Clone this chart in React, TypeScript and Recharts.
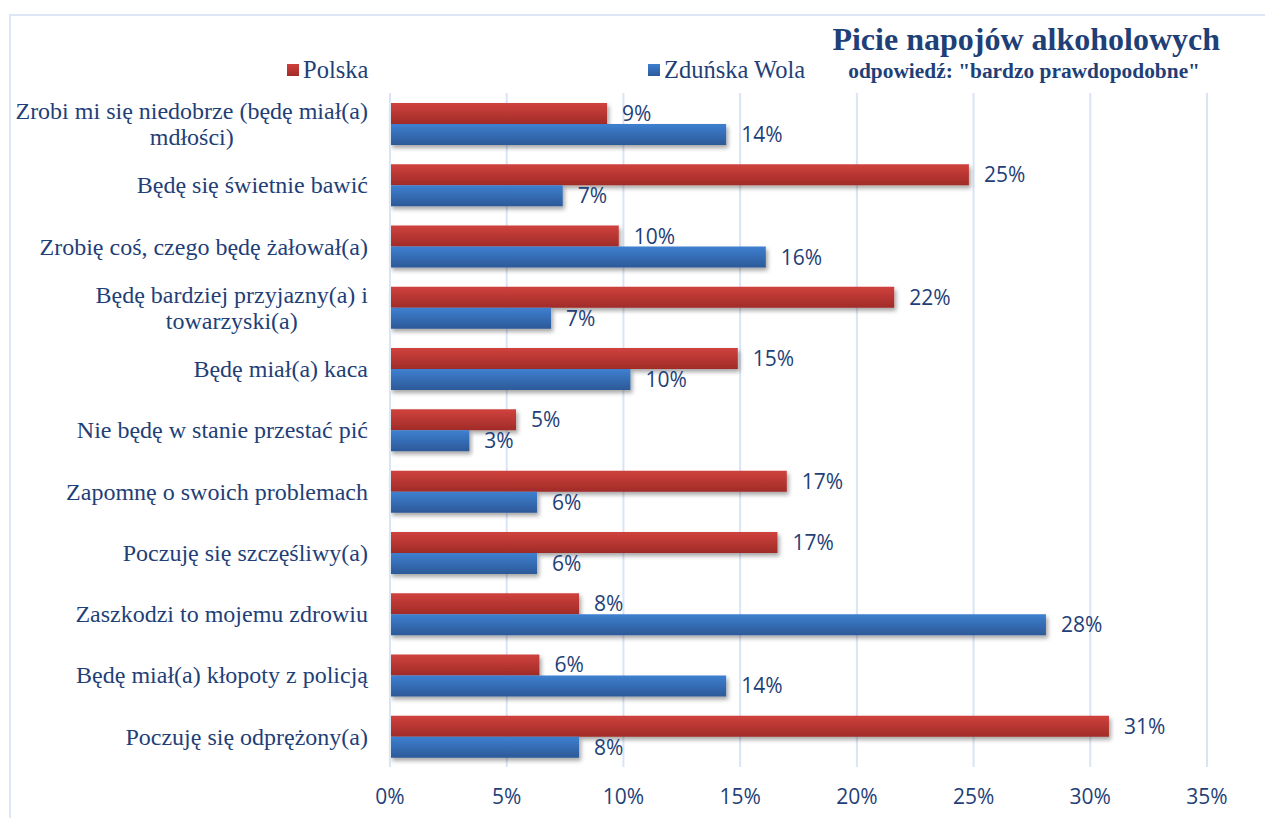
import React from "react";
import {
  BarChart,
  Bar,
  XAxis,
  YAxis,
  CartesianGrid,
  LabelList,
} from "recharts";

const categories = [
  "Zrobi mi się niedobrze (będę miał(a)\nmdłości)",
  "Będę się świetnie bawić",
  "Zrobię coś, czego będę żałował(a)",
  "Będę bardziej przyjazny(a) i\ntowarzyski(a)",
  "Będę miał(a) kaca",
  "Nie będę w stanie przestać pić",
  "Zapomnę o swoich problemach",
  "Poczuję się szczęśliwy(a)",
  "Zaszkodzi to mojemu zdrowiu",
  "Będę miał(a) kłopoty z policją",
  "Poczuję się odprężony(a)",
];

const polska = [9.3, 24.8, 9.8, 21.6, 14.9, 5.4, 17.0, 16.6, 8.1, 6.4, 30.8];
const zdunskaWola = [14.4, 7.4, 16.1, 6.9, 10.3, 3.4, 6.3, 6.3, 28.1, 14.4, 8.1];

const xTicks = [0, 5, 10, 15, 20, 25, 30, 35];

const data = categories.map((name, i) => ({
  name,
  polska: polska[i],
  zw: zdunskaWola[i],
}));

const TEXT = "#1F3F77";
const SERIF = "Liberation Serif";
const SANS = "Open Sans";
const CAT_FONT = 24;

let ctx: CanvasRenderingContext2D | null = null;
function textWidth(s: string) {
  if (!ctx) ctx = document.createElement("canvas").getContext("2d");
  if (!ctx) return s.length * 10;
  ctx.font = `${CAT_FONT}px "Liberation Serif"`;
  return ctx.measureText(s).width;
}

function CategoryTick(props: any) {
  const { y, payload } = props;
  const right = 368;
  const lines: string[] = String(payload.value).split("\n");
  const lh = 26;
  if (lines.length === 1) {
    return (
      <text x={right} y={y} dy="0.35em" textAnchor="end" fill={TEXT}
        style={{ fontFamily: SERIF, fontSize: CAT_FONT }}>
        {lines[0]}
      </text>
    );
  }
  const w = Math.max(...lines.map(textWidth));
  const cx = right - w / 2;
  const start = y - ((lines.length - 1) * lh) / 2;
  return (
    <text textAnchor="middle" fill={TEXT} style={{ fontFamily: SERIF, fontSize: CAT_FONT }}>
      {lines.map((l, i) => (
        <tspan key={i} x={cx} y={start + i * lh} dy="0.35em">{l}</tspan>
      ))}
    </text>
  );
}

const pct = (v: any) => `${Math.round(Number(v))}%`;

export default function App() {
  return (
    <div style={{ position: "absolute", left: 0, top: 0, width: 1265, height: 818, background: "#fff", overflow: "hidden" }}>
      <div style={{ position: "absolute", left: 9, top: 14, width: 1300, height: 900, border: "2px solid #DCE6F4" }} />
      <div style={{ position: "absolute", right: 45, top: 21, fontFamily: SERIF, fontWeight: "bold", color: TEXT, fontSize: 32, whiteSpace: "nowrap" }}>
        Picie napojów alkoholowych
      </div>
      <div style={{ position: "absolute", right: 65, top: 59, fontFamily: SERIF, fontWeight: "bold", color: TEXT, fontSize: 21.4, whiteSpace: "nowrap" }}>
        odpowiedź: "bardzo prawdopodobne"
      </div>
      <div style={{ position: "absolute", left: 287, top: 56, fontFamily: SERIF, color: TEXT, fontSize: 24.5, whiteSpace: "nowrap", display: "flex", alignItems: "center" }}>
        <span style={{ display: "inline-block", width: 12, height: 12, background: "linear-gradient(#CF403B, #A22C29)", marginRight: 4 }} />
        Polska
      </div>
      <div style={{ position: "absolute", left: 648, top: 56, fontFamily: SERIF, color: TEXT, fontSize: 24.5, whiteSpace: "nowrap", display: "flex", alignItems: "center" }}>
        <span style={{ display: "inline-block", width: 12, height: 12, background: "linear-gradient(#3D7FCF, #2C5A9B)", marginRight: 4 }} />
        Zduńska Wola
      </div>
      <div style={{ position: "absolute", left: 0, top: 0 }}>
        <BarChart
          width={1265}
          height={818}
          data={data}
          layout="vertical"
          margin={{ top: 93, right: 58, bottom: 0, left: 0 }}
          barSize={21}
          barGap={0}
        >
          <defs>
            <linearGradient id="gRed" x1="0" y1="0" x2="0" y2="1">
              <stop offset="0%" stopColor="#D0423D" />
              <stop offset="100%" stopColor="#A02B28" />
            </linearGradient>
            <linearGradient id="gBlue" x1="0" y1="0" x2="0" y2="1">
              <stop offset="0%" stopColor="#3E80D0" />
              <stop offset="100%" stopColor="#2C5998" />
            </linearGradient>
            <filter id="shadow" x="-5%" y="-20%" width="110%" height="160%">
              <feDropShadow dx="2" dy="3" stdDeviation="2" floodColor="#000" floodOpacity="0.35" />
            </filter>
          </defs>
          <CartesianGrid horizontal={false} stroke="#D9E5F4" strokeWidth={2} />
          <XAxis
            type="number"
            domain={[0, 35]}
            ticks={xTicks}
            tickFormatter={(v) => `${v}%`}
            axisLine={false}
            tickLine={false}
            tickSize={0}
            tickMargin={22}
            height={51}
            tick={{ fill: TEXT, fontSize: 21, fontFamily: SANS }}
          />
          <YAxis
            type="category"
            dataKey="name"
            width={390}
            axisLine={{ stroke: "#D9E5F4", strokeWidth: 2 }}
            tickLine={false}
            tick={<CategoryTick />}
            interval={0}
          />
          <Bar dataKey="polska" fill="url(#gRed)" filter="url(#shadow)" isAnimationActive={false}>
            <LabelList dataKey="polska" position="right" offset={15} formatter={pct}
              fill={TEXT} fontSize={21} fontFamily={SANS} />
          </Bar>
          <Bar dataKey="zw" fill="url(#gBlue)" filter="url(#shadow)" isAnimationActive={false}>
            <LabelList dataKey="zw" position="right" offset={15} formatter={pct}
              fill={TEXT} fontSize={21} fontFamily={SANS} />
          </Bar>
        </BarChart>
      </div>
    </div>
  );
}
